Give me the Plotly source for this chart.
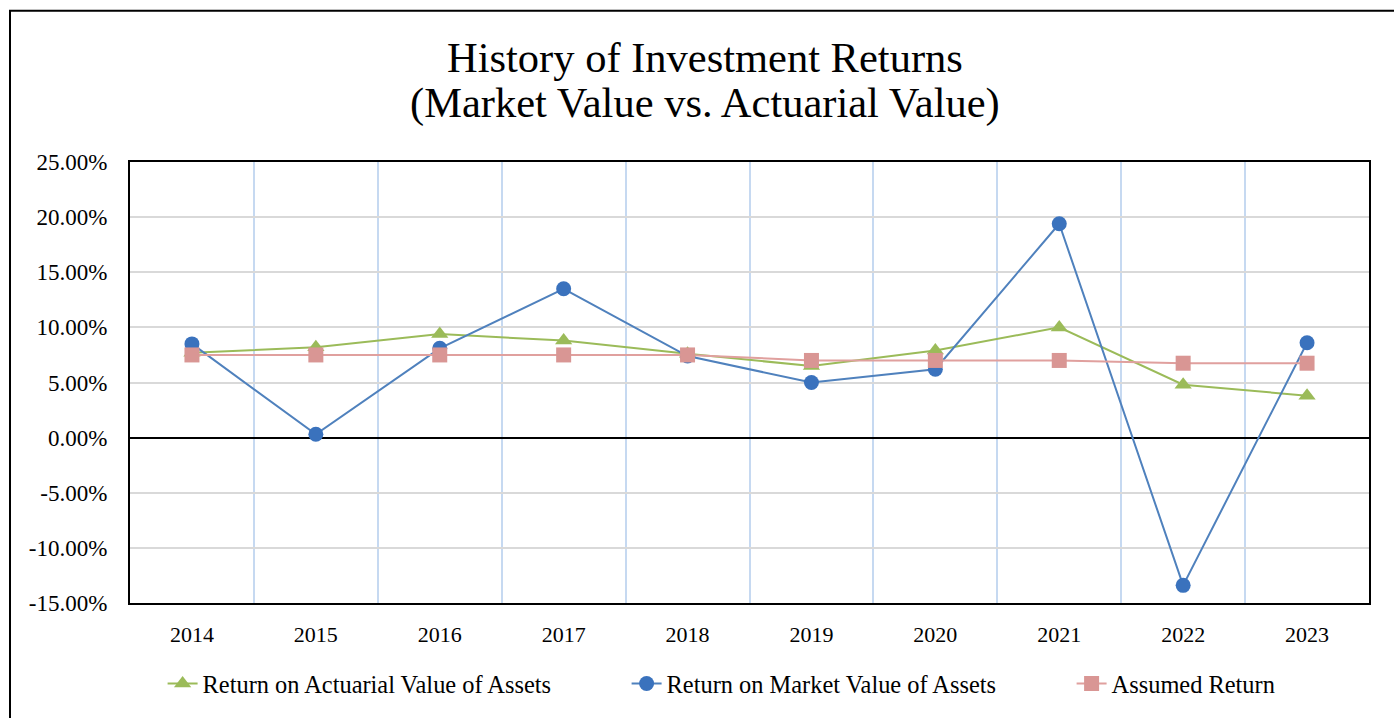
import plotly.graph_objects as go

years = ["2014", "2015", "2016", "2017", "2018", "2019", "2020", "2021", "2022", "2023"]
actuarial = [7.7, 8.2, 9.4, 8.8, 7.6, 6.5, 7.9, 10.0, 4.8, 3.8]
market = [8.5, 0.3, 8.1, 13.5, 7.4, 5.0, 6.2, 19.4, -13.4, 8.6]
assumed = [7.5, 7.5, 7.5, 7.5, 7.5, 7.0, 7.0, 7.0, 6.75, 6.75]
y_ticks = [-15, -10, -5, 0, 5, 10, 15, 20, 25]
y_tick_text = [f"{v:.2f}%" for v in y_ticks]
title_lines = ["History of Investment Returns", "(Market Value vs. Actuarial Value)"]

FONT = "Liberation Serif, Times New Roman, serif"
W, H = 1394, 718
L, R, T, B = 130, 25, 162, 113
PW, PH = W - L - R, H - T - B

def px_x(p):
    return (p - L) / PW

def px_y(p):
    return (H - B - p) / PH

fig = go.Figure()
fig.add_trace(go.Scatter(
    x=years, y=actuarial, mode="lines+markers", name="Return on Actuarial Value of Assets",
    line=dict(color="#9bbb59", width=2),
    marker=dict(symbol="triangle-up", size=15, color="#9bbb59"),
    legend="legend"))
fig.add_trace(go.Scatter(
    x=years, y=market, mode="lines+markers", name="Return on Market Value of Assets",
    line=dict(color="#4f81bd", width=2),
    marker=dict(symbol="circle", size=15, color="#3a72bd"),
    legend="legend2"))
fig.add_trace(go.Scatter(
    x=years, y=assumed, mode="lines+markers", name="Assumed Return",
    line=dict(color="#e0a09e", width=2),
    marker=dict(symbol="square", size=15, color="#d99694"),
    legend="legend3"))

leg_common = dict(orientation="h", yanchor="middle", y=px_y(686), xanchor="left",
                  font=dict(family=FONT, size=24.4, color="#000"), bgcolor="rgba(0,0,0,0)")

annotations = []
for txt, yp in zip(title_lines, [57, 103]):
    annotations.append(dict(text=txt, xref="paper", yref="paper", x=px_x(705), y=px_y(yp),
                            xanchor="center", yanchor="middle", showarrow=False,
                            font=dict(family=FONT, size=42.5, color="#000")))

fig.update_layout(
    width=W, height=H,
    margin=dict(l=L, r=R, t=T, b=B),
    paper_bgcolor="white", plot_bgcolor="white",
    annotations=annotations,
    legend=dict(x=px_x(162.6), **leg_common),
    legend2=dict(x=px_x(626.6), **leg_common),
    legend3=dict(x=px_x(1071.6), **leg_common),
    xaxis=dict(type="category", tickson="boundaries", range=[-0.5, 9.5], showgrid=True,
               gridcolor="#c6d9f1", gridwidth=1.5, showline=True, linecolor="black",
               linewidth=2, mirror=True, ticks="", ticklabelstandoff=11,
               tickfont=dict(family=FONT, size=22, color="#000")),
    yaxis=dict(range=[-15, 25], tickvals=y_ticks, ticktext=y_tick_text, showgrid=True,
               gridcolor="#d9d9d9", gridwidth=1.5, zeroline=True, zerolinecolor="black",
               zerolinewidth=2, showline=True, linecolor="black", linewidth=2, mirror=True,
               ticks="", ticklabelstandoff=16,
               tickfont=dict(family=FONT, size=23, color="#000")),
    shapes=[dict(type="rect", xref="paper", yref="paper",
                 x0=px_x(10), x1=px_x(1405), y0=px_y(740), y1=px_y(10),
                 line=dict(color="black", width=2), fillcolor="rgba(0,0,0,0)", layer="below")],
    showlegend=True,
)

fig.write_html("out.html", config={"displayModeBar": False},
               post_script="document.body.style.margin='0';")
